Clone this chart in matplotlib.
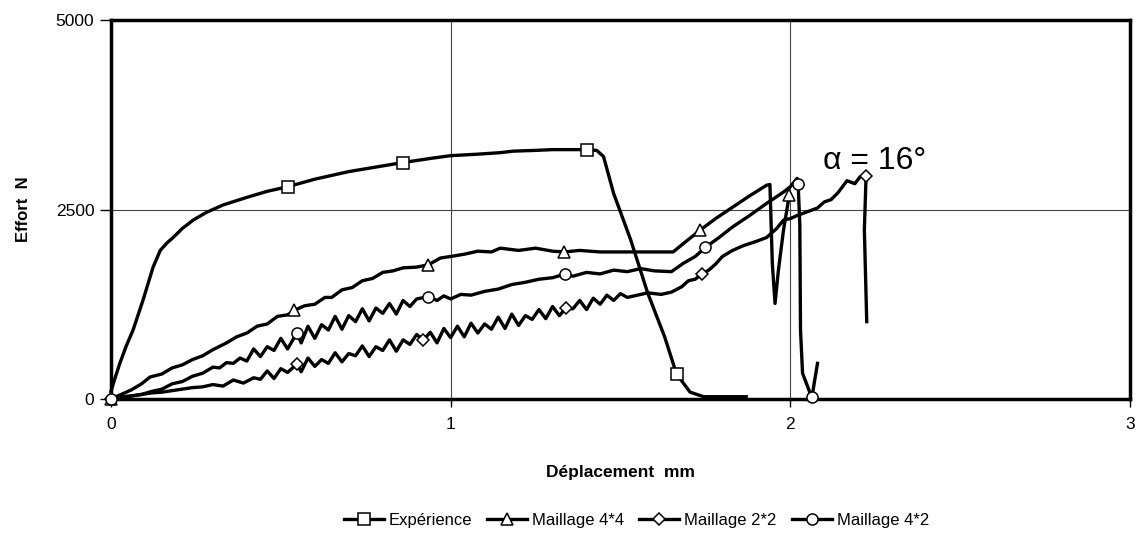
import matplotlib
matplotlib.use("Agg")
import matplotlib.pyplot as plt
from matplotlib.lines import Line2D

plt.rcParams['font.family'] = ['Liberation Sans', 'DejaVu Sans']

# Expérience
exp_x = [0.00, 0.01, 0.026, 0.045, 0.065, 0.094, 0.124, 0.145, 0.165, 0.183, 0.21, 0.242,
         0.28, 0.33, 0.40, 0.46, 0.52, 0.60, 0.70, 0.78, 0.86, 0.95, 1.00, 1.08, 1.146,
         1.185, 1.25, 1.30, 1.40, 1.43, 1.45, 1.48, 1.53, 1.58, 1.63, 1.665, 1.705, 1.745, 1.87]
exp_y = [100, 250, 470, 700, 910, 1300, 1740, 1960, 2060, 2130, 2250, 2360,
         2460, 2560, 2660, 2740, 2800, 2900, 3000, 3060, 3120, 3180, 3210, 3230, 3250,
         3270, 3280, 3290, 3290, 3280, 3200, 2710, 2100, 1400, 820, 330, 90, 30, 30]
exp_marks = [0.52, 0.86, 1.40, 1.665]

# Maillage 4*4
m44_x = [0.00, 0.03, 0.06, 0.09, 0.115, 0.15, 0.18, 0.21, 0.24, 0.27, 0.30, 0.34, 0.37,
         0.40, 0.43, 0.46, 0.49, 0.52, 0.54, 0.57, 0.60, 0.63, 0.65, 0.68, 0.71, 0.74,
         0.77, 0.80, 0.83, 0.86, 0.90, 0.934, 0.97, 1.00, 1.04, 1.08, 1.12, 1.146, 1.20,
         1.25, 1.30, 1.335, 1.38, 1.44, 1.50, 1.56, 1.60, 1.655, 1.685, 1.735, 1.78, 1.83,
         1.88, 1.93, 1.94, 1.947, 1.955, 1.965, 1.98, 1.99, 1.997]
m44_y = [0, 60, 120, 200, 290, 330, 410, 450, 520, 570, 650, 740, 820,
         870, 960, 990, 1090, 1110, 1170, 1230, 1250, 1340, 1340, 1440, 1470, 1560,
         1590, 1670, 1690, 1730, 1740, 1770, 1860, 1880, 1910, 1950, 1940, 1990, 1960,
         1990, 1950, 1940, 1960, 1940, 1940, 1940, 1940, 1940, 2050, 2230, 2380, 2530,
         2680, 2820, 2830, 1790, 1260, 1700, 2230, 2500, 2690]
m44_marks = [0.00, 0.54, 0.934, 1.335, 1.735, 1.997]

# Maillage 2*2
m22_x = [0.00, 0.03, 0.06, 0.09, 0.12, 0.15, 0.18, 0.21, 0.24, 0.27, 0.30, 0.33, 0.36,
         0.39, 0.42, 0.44, 0.46, 0.48, 0.50, 0.52, 0.547, 0.56, 0.58, 0.60, 0.62, 0.64,
         0.66, 0.68, 0.70, 0.72, 0.74, 0.76, 0.78, 0.80, 0.82, 0.84, 0.86, 0.88, 0.90,
         0.92, 0.94, 0.96, 0.98, 1.00, 1.02, 1.04, 1.06, 1.08, 1.10, 1.12, 1.14, 1.16,
         1.18, 1.20, 1.22, 1.24, 1.26, 1.28, 1.30, 1.32, 1.34, 1.36, 1.38, 1.40, 1.42,
         1.44, 1.46, 1.48, 1.50, 1.52, 1.55, 1.58, 1.62, 1.65, 1.68, 1.70, 1.72, 1.74,
         1.76, 1.78, 1.80, 1.83, 1.86, 1.90, 1.93, 1.96, 1.98, 2.00, 2.02, 2.05, 2.08,
         2.10, 2.12, 2.14, 2.167, 2.19, 2.205, 2.223, 2.218, 2.225]
m22_y = [0, 30, 40, 60, 80, 90, 110, 130, 150, 160,
         190, 170, 250, 210, 280, 260, 370, 270, 400, 350,
         460, 360, 540, 430, 520, 470, 610, 490, 600, 570,
         700, 560, 690, 640, 780, 630, 780, 720, 850, 780,
         880, 740, 930, 810, 960, 820, 1000, 870, 990, 920,
         1080, 930, 1120, 970, 1100, 1050, 1180, 1060, 1220, 1100,
         1200, 1190, 1300, 1180, 1330, 1250, 1370, 1300, 1390, 1340,
         1370, 1400, 1380, 1410, 1480, 1560, 1580, 1650, 1700, 1780,
         1880, 1960, 2020, 2080, 2130, 2250, 2360, 2380, 2420, 2470,
         2520, 2600, 2630, 2720, 2880, 2840, 2930, 2940, 2230, 1020]
m22_marks = [0.00, 0.547, 0.92, 1.34, 1.74, 2.223]

# Maillage 4*2
m42_x = [0.00, 0.03, 0.06, 0.09, 0.12, 0.15, 0.18, 0.21, 0.24, 0.27, 0.30, 0.32, 0.34,
         0.36, 0.38, 0.40, 0.42, 0.44, 0.46, 0.48, 0.50, 0.52, 0.547, 0.56, 0.58, 0.60,
         0.62, 0.64, 0.66, 0.68, 0.70, 0.72, 0.74, 0.76, 0.78, 0.80, 0.82, 0.84, 0.86,
         0.88, 0.90, 0.934, 0.96, 0.98, 1.00, 1.03, 1.06, 1.10, 1.14, 1.18, 1.22, 1.26,
         1.30, 1.338, 1.36, 1.40, 1.44, 1.48, 1.52, 1.56, 1.60, 1.65, 1.685, 1.72, 1.75,
         1.79, 1.83, 1.88, 1.93, 1.98, 2.00, 2.02, 2.023, 2.028, 2.03, 2.036, 2.058,
         2.064, 2.07, 2.08]
m42_y = [0, 10, 40, 60, 100, 130, 200, 230, 300, 340,
         420, 410, 480, 470, 540, 500, 660, 560, 690, 640,
         800, 660, 870, 740, 960, 800, 980, 910, 1090, 920,
         1100, 1020, 1190, 1030, 1200, 1130, 1260, 1120, 1300, 1220,
         1320, 1350, 1300, 1360, 1320, 1380, 1370, 1420, 1450, 1510,
         1540, 1580, 1600, 1650, 1620, 1670, 1650, 1700, 1680, 1720,
         1690, 1680, 1790, 1880, 2000, 2130, 2270, 2420, 2580, 2730,
         2800, 2910, 2840, 2300, 910, 340, 80, 30, 200, 470]
m42_marks = [0.00, 0.547, 0.934, 1.338, 1.75, 2.023, 2.064]

x_ticks = [0, 1, 2, 3]
y_ticks = [0, 2500, 5000]

fig = plt.figure(figsize=(11.36, 5.47), dpi=100)
ax = fig.add_axes([0.0977, 0.2706, 0.897, 0.6928])

style = dict(color='black', lw=2.4, markerfacecolor='white',
             markeredgecolor='black', markeredgewidth=1.1)

series = [
    (exp_x, exp_y, exp_marks, 's', 8, 'Expérience'),
    (m44_x, m44_y, m44_marks, '^', 8, 'Maillage 4*4'),
    (m22_x, m22_y, m22_marks, 'D', 6, 'Maillage 2*2'),
    (m42_x, m42_y, m42_marks, 'o', 8, 'Maillage 4*2'),
]
handles = []
for xs, ys, marks, mk, ms, lab in series:
    idx = [xs.index(v) for v in marks]
    ax.plot(xs, ys, marker=mk, markersize=ms, markevery=idx, zorder=4,
            clip_on=False, **style)
    handles.append(Line2D([], [], marker=mk, markersize=ms, label=lab, **style))

ax.set_xlim(0, 3)
ax.set_ylim(0, 5000)
ax.set_xticks(x_ticks)
ax.set_yticks(y_ticks)
ax.tick_params(labelsize=12.5, direction='out', width=1)
ax.tick_params(axis='y', length=8, pad=4)
ax.tick_params(axis='x', length=6, pad=7)
ax.grid(True, color='#444444', lw=0.8)
ax.set_axisbelow(True)
for sp in ax.spines.values():
    sp.set_linewidth(2.5)

ax.set_xlabel('Déplacement  mm', fontsize=12.5, fontweight='bold', labelpad=24)
ax.set_ylabel('Effort  N', fontsize=12, fontweight='bold', labelpad=18)

ax.text(2.096, 3030, 'α = 16°', fontsize=23, ha='left', va='baseline')

fig.legend(handles=handles, loc='center', bbox_to_anchor=(0.56, 0.048), ncol=4,
           frameon=False, fontsize=12, handlelength=2.4, handletextpad=0.3,
           columnspacing=0.9, numpoints=1)

fig.savefig('out.png', dpi=100)
